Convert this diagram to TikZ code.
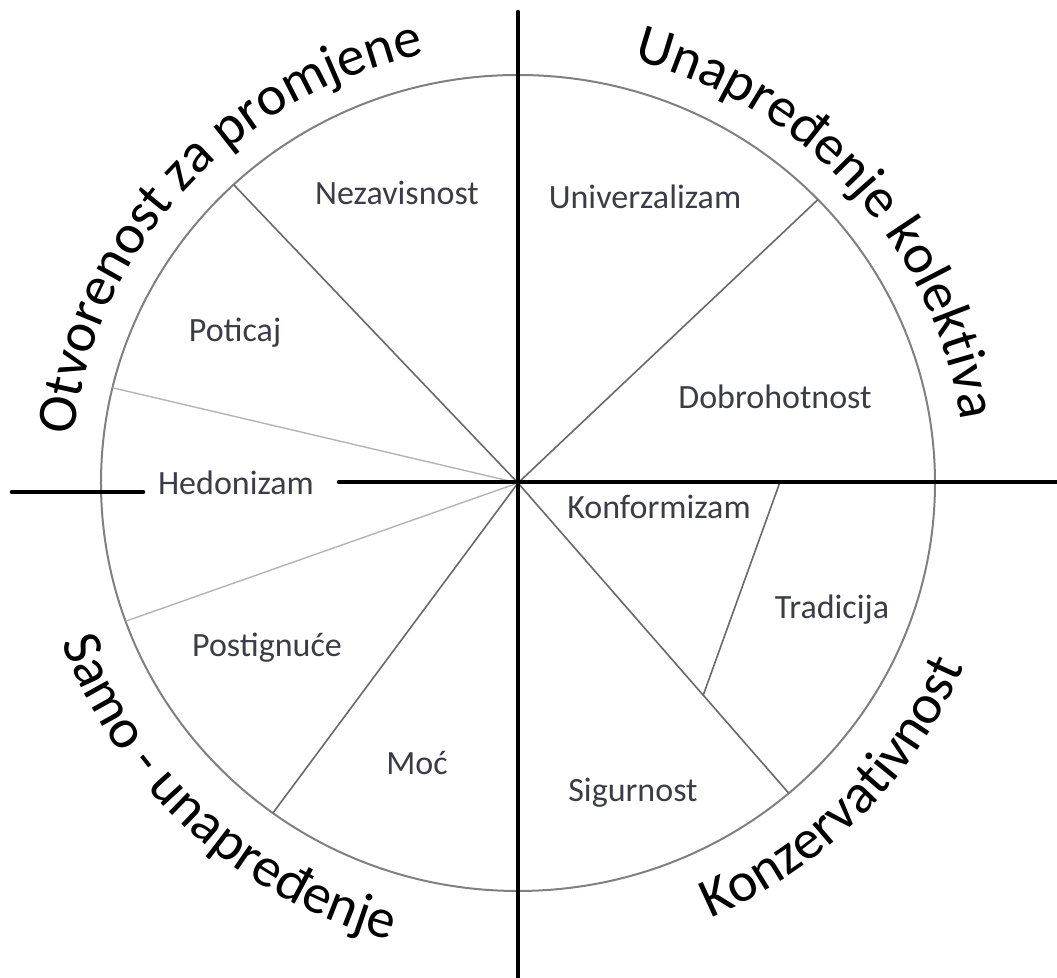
\documentclass[tikz,border=0pt]{standalone}
\usepackage{fontspec}
\setmainfont{Carlito}
\usetikzlibrary{calc,decorations.text}

\definecolor{labelgray}{RGB}{60,60,70}
\definecolor{ringgray}{RGB}{128,128,128}
\definecolor{spokegray}{RGB}{105,105,105}
\definecolor{faintgray}{RGB}{180,180,180}
\newcommand\quadfont{\fontsize{28}{32}\selectfont}

\tikzset{
  value/.style={text=labelgray, font=\fontsize{17}{20}\selectfont},
  spoke/.style={draw=spokegray, line width=0.8pt},
  faint/.style={draw=faintgray, line width=0.7pt},
  axis/.style={line width=2.3pt, line cap=round},
  quadrant/.style={decorate, decoration={text along path, text align=center,
      text={|\quadfont|#1}}}
}

\begin{document}
\begin{tikzpicture}[x=0.5pt, y=0.5pt]
    \useasboundingbox (-518,-495) rectangle (539,483);
    \coordinate (c) at (0,0);

    % value circle and sectors
    \draw[ringgray, line width=1pt] (c) ellipse [x radius=417, y radius=408];
    \foreach \a/\n in {133/s1, 234/s4, 44/s5, 310.5/s6} {
        \coordinate (\n) at (\a:417 and 408);
        \draw[spoke] (c) -- (\n);
    }
    \foreach \a/\n in {166.5/s2, 199.8/s3} {
        \coordinate (\n) at (\a:417 and 408);
        \draw[faint] (c) -- (\n);
    }
    \coordinate (t1) at (262,1);
    \draw[spoke] (t1) -- ($(c)!0.684!(s6)$);

    % values
    \node[value] (nez) at (-121, 290) {Nezavisnost};
    \node[value] (pot) at (-283, 150) {Poticaj};
    \node[value] (hed) at (-282, 0) {Hedonizam};
    \node[value] (pos) at (-251, -165) {Postignuće};
    \node[value] (moc) at (-101, -280) {Moć};
    \node[value] (uni) at (127, 286) {Univerzalizam};
    \node[value] (dob) at (257, 86) {Dobrohotnost};
    \node[value] (kon) at (141, -24) {Konformizam};
    \node[value] (tra) at (314, -127) {Tradicija};
    \node[value] (sig) at (115, -310) {Sigurnost};

    % axes
    \draw[axis] (0,471) -- (0,-500);
    \draw[axis] ($(hed.east)+(18,1)$) -- (545,1);
    \draw[axis] (-506,-9) -- (-375,-9);

    % quadrant titles
    \path[quadrant={Otvorenost za promjene}] (180:447 and 438)
        arc[start angle=180, end angle=96, x radius=447, y radius=438];
    \path[quadrant={Unapređenje kolektiva}] (85:447 and 438)
        arc[start angle=85, end angle=-2, x radius=447, y radius=438];
    \path[quadrant={Samo - unapređenje}] (180:484 and 474)
        arc[start angle=180, end angle=274, x radius=484, y radius=474];
    \path[quadrant={Konzervativnost}] (270:484 and 474)
        arc[start angle=270, end angle=361, x radius=484, y radius=474];
\end{tikzpicture}
\end{document}
